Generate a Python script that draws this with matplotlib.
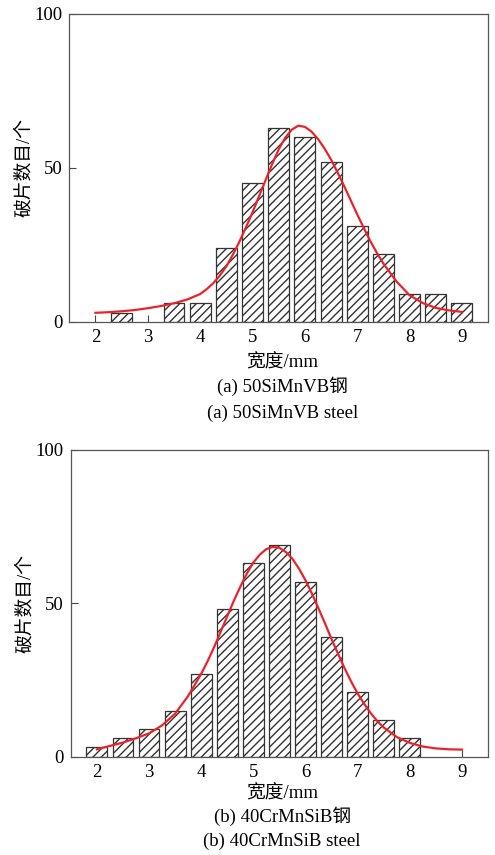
import matplotlib
matplotlib.use("Agg")
import matplotlib.pyplot as plt

plt.rcParams['font.family'] = ['Liberation Serif', 'Noto Sans CJK SC', 'DejaVu Sans']
plt.rcParams['hatch.linewidth'] = 1.0
plt.rcParams['hatch.color'] = 'black'

# (a) 50SiMnVB steel - fragment counts per width bin
widths_a = [2.5, 3.5, 4.0, 4.5, 5.0, 5.5, 6.0, 6.5, 7.0, 7.5, 8.0, 8.5, 9.0]
counts_a = [3, 6, 6, 24, 45, 63, 60, 52, 31, 22, 9, 9, 6]

# (b) 40CrMnSiB steel
widths_b = [2.0, 2.5, 3.0, 3.5, 4.0, 4.5, 5.0, 5.5, 6.0, 6.5, 7.0, 7.5, 8.0]
counts_b = [3, 6, 9, 15, 27, 48, 63, 69, 57, 39, 21, 12, 6]

# fitted curves (finer steps around the peak)
curve_x = [2.0, 2.25, 2.5, 2.75, 3.0, 3.25, 3.5, 3.75,
           4.0, 4.125, 4.25, 4.375, 4.5, 4.625, 4.75, 4.875,
           5.0, 5.125, 5.25, 5.375, 5.5, 5.625, 5.75, 5.875,
           6.0, 6.125, 6.25, 6.375, 6.5, 6.625, 6.75, 6.875,
           7.0, 7.125, 7.25, 7.375, 7.5,
           7.75, 8.0, 8.25, 8.5, 8.75, 9.0]
curve_a = [2.9, 3.1, 3.4, 3.8, 4.4, 5.1, 6.0, 7.2,
           9.0, 10.6, 12.5, 15.0, 18.0, 21.8, 26.0, 30.7,
           35.5, 40.8, 46.0, 51.2, 56.0, 59.8, 62.4, 63.7,
           63.3, 61.8, 59.4, 56.3, 52.7, 48.5, 44.1, 39.5,
           34.9, 30.5, 26.2, 22.4, 18.9,
           13.1, 8.6, 6.1, 4.5, 3.7, 3.2]
curve_b = [2.4, 3.5, 4.6, 6.0, 7.6, 10.2, 14.0, 19.8,
           27.0, 31.2, 35.8, 40.8, 45.8, 50.8, 55.4, 59.7,
           63.3, 65.9, 67.7, 68.4, 68.1, 66.7, 64.5, 61.3,
           57.5, 53.1, 48.3, 43.4, 38.3, 33.5, 28.8, 24.5,
           20.6, 17.2, 14.2, 11.6, 9.5,
           6.4, 4.5, 3.3, 2.7, 2.4, 2.3]

xticks = [2, 3, 4, 5, 6, 7, 8, 9]
yticks = [0, 50, 100]
fs = 13.5


def draw_panel(fig, rect, widths, counts, cx, cy):
    ax = fig.add_axes(rect)
    ax.bar(widths, counts, width=0.4, facecolor='white', edgecolor='#333333',
           linewidth=0.9, hatch='////', zorder=2)
    ax.plot(cx, cy, color='#e8242a', linewidth=1.6, zorder=3)
    ax.set_xlim(1.5, 9.5)
    ax.set_ylim(0, 100)
    ax.set_xticks(xticks)
    ax.set_yticks(yticks)
    ax.tick_params(direction='in', length=5, width=0.8, color='#444444',
                   labelsize=fs, pad=5, top=False, right=False)
    for s in ax.spines.values():
        s.set_color('#555555')
        s.set_linewidth(0.9)
    ax.set_ylabel('破片数目/个', fontsize=fs, labelpad=1)
    return ax


def main():
    fig = plt.figure(figsize=(4.95, 8.55), dpi=100)

    draw_panel(fig, [0.140, 0.6237, 0.846, 0.360], widths_a, counts_a, curve_x, curve_a)
    fig.text(0.57, 1 - 363 / 855, '宽度/mm', ha='center', va='center', fontsize=fs)
    fig.text(0.57, 1 - 386 / 855, '(a) 50SiMnVB钢', ha='center', va='center', fontsize=fs)
    fig.text(0.57, 1 - 413 / 855, '(a) 50SiMnVB steel', ha='center', va='center', fontsize=fs)

    draw_panel(fig, [0.143, 0.115, 0.843, 0.3587], widths_b, counts_b, curve_x, curve_b)
    fig.text(0.57, 1 - 794 / 855, '宽度/mm', ha='center', va='center', fontsize=fs)
    fig.text(0.57, 1 - 816 / 855, '(b) 40CrMnSiB钢', ha='center', va='center', fontsize=fs)
    fig.text(0.57, 1 - 841 / 855, '(b) 40CrMnSiB steel', ha='center', va='center', fontsize=fs)

    fig.savefig('out.png', dpi=100)


if __name__ == "__main__":
    main()
